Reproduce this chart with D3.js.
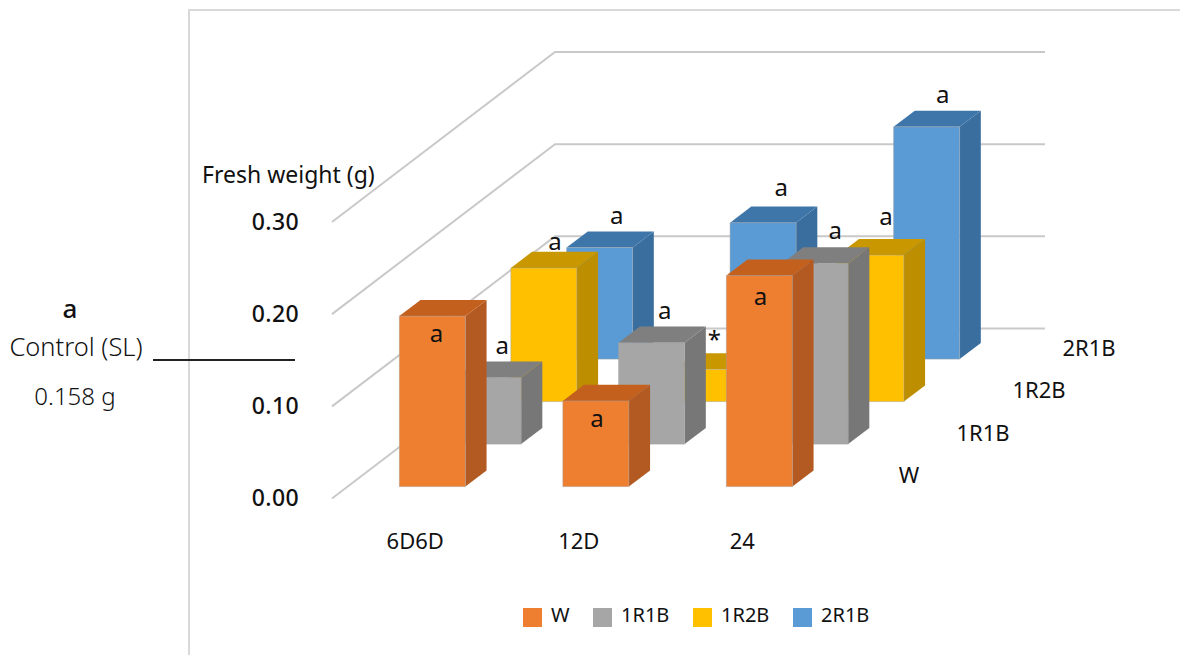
<!DOCTYPE html>
<html>
<head>
<meta charset="utf-8">
<script src="https://cdn.jsdelivr.net/npm/d3@7"></script>
<style>
  html, body { margin: 0; padding: 0; background: #fff; }
  svg { display: block; }
  text { font-family: "Noto Sans", sans-serif; fill: #111; }
</style>
</head>
<body>
<svg id="chart" width="1180" height="655"></svg>
<script>
// Fresh weight by photoperiod and light quality
const photoperiods = ["6D6D", "12D", "24"];
const lightTreatments = ["W", "1R1B", "1R2B", "2R1B"];
const valueTicks = [0, 0.1, 0.2, 0.3];

const weightW    = [0.185, 0.093, 0.229];
const weight1R1B = [0.072, 0.110, 0.196];
const weight1R2B = [0.145, 0.035, 0.159];
const weight2R1B = [0.121, 0.148, 0.252];
const allWeights = [weightW, weight1R1B, weight1R2B, weight2R1B];

const letterW    = ["a", "a", "a"];
const letter1R1B = ["a", "a", "a"];
const letter1R2B = ["a", "*", "a"];
const letter2R1B = ["a", "a", "a"];
const allLetters = [letterW, letter1R1B, letter1R2B, letter2R1B];

const frontColors = ["#ef7f30", "#a6a6a6", "#ffc000", "#5b9bd5"];
const topColors   = ["#c4601d", "#7f7f7f", "#c99700", "#3f76aa"];
const sideColors  = ["#b35a22", "#777777", "#bd8f00", "#3a6e9e"];

const controlValue = "0.158 g";

const svg = d3.select("#chart");

// Oblique projection: depth units shift a point right and up
const wallLeft = 332, unitX = 55.75, unitY = 42.5;
const y = d3.scaleLinear().domain([0, 0.3]).range([498.5, 222]);
const x = d3.scaleBand().domain(photoperiods).range([335, 825.5]).paddingInner(0.596).paddingOuter(0.298);
const depth = d3.scaleBand().domain(lightTreatments).range([0, 4]).paddingInner(0.62).paddingOuter(0.31).align(0.4516);
const px = (left, d) => left + d * unitX;
const py = (top, d) => top - d * unitY;
const poly = pts => pts.map(p => p.join(",")).join(" ");

// Chart frame
const frame = svg.append("g").attr("stroke", "#d9d9d9").attr("stroke-width", 2).attr("fill", "none");
frame.append("path").attr("d", "M189,655V10H1180");

// Floor-to-wall gridlines
const grid = svg.append("g").attr("fill", "none").attr("stroke", "#c9c9c9").attr("stroke-width", 2);
grid.selectAll("polyline").data(valueTicks).join("polyline")
  .attr("points", v => poly([
    [wallLeft, y(v)],
    [px(wallLeft, 4), py(y(v), 4)],
    [px(wallLeft, 4) + 490, py(y(v), 4)]
  ]));

// Value axis
const axis = svg.append("g")
  .attr("transform", "translate(299,0)")
  .call(d3.axisLeft(y).tickValues(valueTicks).tickFormat(d3.format(".2f")).tickSize(0).tickPadding(0));
axis.select(".domain").remove();
axis.selectAll("text")
  .style("font-size", "23px").style("font-weight", 500).style("letter-spacing", "0.4px")
  .style("font-family", "'Noto Sans', sans-serif").attr("fill", "#111");

svg.append("text").attr("x", 202).attr("y", 183).style("font-size", "23px").text("Fresh weight (g)");

// Bars, painted from the back row forward
const rows = lightTreatments.map((name, s) => ({ name, s })).reverse();
const marks = rows.flatMap(r => photoperiods.map((p, i) => ({ p, i, s: r.s, name: r.name, value: allWeights[r.s][i], letter: allLetters[r.s][i] })));

const bars = svg.append("g").selectAll("g").data(marks).join("g");
const dOf = m => depth(m.name);
const w = x.bandwidth(), dw = depth.bandwidth();
const cornerX = m => px(x(m.p), dOf(m));
const cornerBase = m => py(y(0), dOf(m));
const cornerTop = m => py(y(m.value), dOf(m));

bars.append("polygon").attr("fill", m => sideColors[m.s])
  .attr("points", m => {
    const a = cornerX(m) + w, b = cornerBase(m), t = cornerTop(m);
    return poly([[a, b], [a, t], [a + dw * unitX, t - dw * unitY], [a + dw * unitX, b - dw * unitY]]);
  });
bars.append("polygon").attr("fill", m => topColors[m.s])
  .attr("points", m => {
    const a = cornerX(m), t = cornerTop(m);
    return poly([[a, t], [a + w, t], [a + w + dw * unitX, t - dw * unitY], [a + dw * unitX, t - dw * unitY]]);
  });
bars.append("rect").attr("fill", m => frontColors[m.s])
  .attr("stroke", "#a0a0a0").attr("stroke-opacity", 0.45).attr("stroke-width", 1)
  .attr("x", cornerX).attr("y", cornerTop)
  .attr("width", w).attr("height", m => cornerBase(m) - cornerTop(m));

// Significance letters: inside the front row, above the bars behind it
const letterShiftX = [[4, 1, 1], [14, 13, 20], [11, 7, 15], [17, 18, 16]];
const letterShiftY = [[0, 0, 3], [0, 0, 0], [6, 3, -6], [0, -3, 0]];
bars.append("text")
  .attr("text-anchor", "middle")
  .attr("x", m => cornerX(m) + w / 2 + letterShiftX[m.s][m.i])
  .attr("y", m => cornerTop(m) + (m.s === 0 ? 26 : -24) + letterShiftY[m.s][m.i])
  .style("font-size", "24px")
  .text(m => m.letter);

// Category labels along the front edge and the depth edge
svg.append("g").selectAll("text").data(photoperiods).join("text")
  .attr("text-anchor", "middle")
  .attr("x", p => x(p) + w / 2 - 1.5)
  .attr("y", 549)
  .style("font-size", "22px")
  .text(d => d);
const depthLabelX = d3.scaleOrdinal().domain(lightTreatments).range([909, 983, 1039, 1089]);
svg.append("g").selectAll("text").data(lightTreatments).join("text")
  .attr("text-anchor", "middle")
  .attr("x", d => depthLabelX(d))
  .attr("y", d => py(483, depth(d) - depth("W")))
  .style("font-size", "22px")
  .text(d => d);

// Legend
const legendX = d3.scaleOrdinal().domain(lightTreatments).range([523, 593, 693, 793]);
const legend = svg.append("g").selectAll("g").data(lightTreatments).join("g")
  .attr("transform", d => `translate(${legendX(d)},608)`);
legend.append("rect").attr("width", 19).attr("height", 19).attr("fill", (d, i) => frontColors[i]);
legend.append("text").attr("x", 28).attr("y", 14).style("font-size", "20px").text(d => d);

// Control reference, left of the axis
const control = svg.append("g").attr("text-anchor", "middle").style("font-family", "Lato, sans-serif");
control.append("text").attr("x", 70).attr("y", 318).style("font-size", "26px").style("font-weight", 500).text("a");
control.append("text").attr("x", 76).attr("y", 356).style("font-size", "25.5px").style("font-weight", 300).text("Control (SL)");
control.append("text").attr("x", 75).attr("y", 405).style("font-size", "24px").style("font-weight", 300).text(controlValue);
svg.append("line").attr("x1", 153).attr("x2", 295).attr("y1", 360).attr("y2", 360).attr("stroke", "#222").attr("stroke-width", 2);
</script>
</body>
</html>
